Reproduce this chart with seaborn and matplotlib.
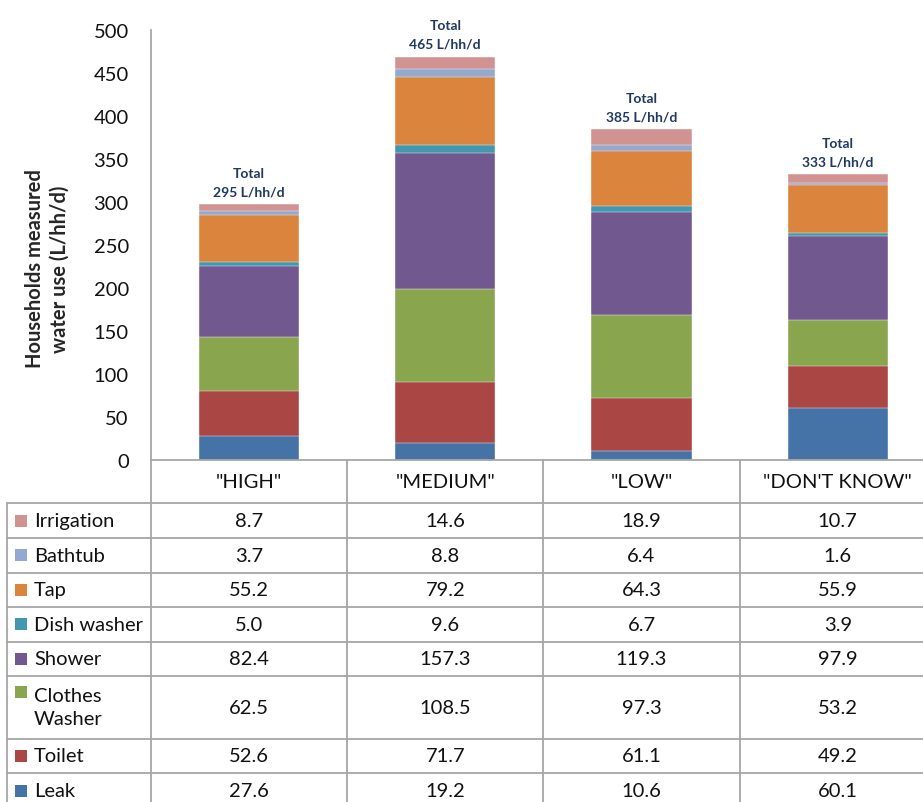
import numpy as np
import pandas as pd
import matplotlib.pyplot as plt
import seaborn as sns
from matplotlib.patches import Rectangle

levels = ['"HIGH"', '"MEDIUM"', '"LOW"', '"DON\'T KNOW"']
uses = ["Leak", "Toilet", "Clothes\nWasher", "Shower", "Dish washer", "Tap", "Bathtub", "Irrigation"]
leak = [27.6, 19.2, 10.6, 60.1]
toilet = [52.6, 71.7, 61.1, 49.2]
clothes = [62.5, 108.5, 97.3, 53.2]
shower = [82.4, 157.3, 119.3, 97.9]
dish = [5.0, 9.6, 6.7, 3.9]
tap = [55.2, 79.2, 64.3, 55.9]
bathtub = [3.7, 8.8, 6.4, 1.6]
irrigation = [8.7, 14.6, 18.9, 10.7]
totals = [295, 465, 385, 333]
colors = ["#4572A7", "#AA4643", "#89A54E", "#71588F", "#4198AF", "#DB843D", "#93A9CF", "#D19392"]

df = pd.DataFrame(dict(zip(uses, [leak, toilet, clothes, shower, dish, tap, bathtub, irrigation])))
df.insert(0, "level", levels)
cum = df[uses].cumsum(axis=1)
cum.insert(0, "level", levels)

sns.set_style("white")
plt.rcParams["font.family"] = ["Lato", "DejaVu Sans"]
grey = "#A6A6A6"

W, H = 923, 803
fig = plt.figure(figsize=(W / 100, H / 100), dpi=100)

# table grid geometry (pixels)
x_left, x0, cw = 7, 151, 196.2
y_axis_bottom, y_axis_top = 461, 31
row_bounds = [504, 539, 573.5, 608, 642.5, 677, 739.5, 774, 809]

ax = fig.add_axes([x0 / W, 1 - y_axis_bottom / H, 4 * cw / W, (y_axis_bottom - y_axis_top) / H])

# stacked bars: draw cumulative heights from the top segment down
for use, col in reversed(list(zip(uses, colors))):
    sns.barplot(data=cum, x="level", y=use, color=col, saturation=1, width=0.51,
                edgecolor="white", linewidth=0.3, ax=ax)

for i, (lvl, tot) in enumerate(zip(levels, totals)):
    ax.annotate(f"Total\n{tot} L/hh/d", xy=(i, cum[uses[-1]][i]), xytext=(0, 5),
                textcoords="offset points", ha="center", va="bottom",
                fontsize=10, fontweight="bold", color="#1F3864", linespacing=1.65)

ax.set_xlim(-0.5, 3.5)
ax.set_ylim(0, 500)
ax.set_yticks(range(0, 501, 50))
ax.set_xticks([])
ax.set_xlabel("")
ax.set_ylabel("")
ax.tick_params(axis="y", length=0, pad=16, labelsize=14.5, labelcolor="#111111")
for s in ["top", "right"]:
    ax.spines[s].set_visible(False)
for s in ["left", "bottom"]:
    ax.spines[s].set_color(grey)
    ax.spines[s].set_linewidth(1.3)

fig.text(47 / W, 1 - 269 / H, "Households measured\nwater use (L/hh/d)", rotation=90,
         ha="center", va="center", fontsize=14.5, fontweight="bold", linespacing=1.3)

# data table below the chart, drawn in pixel coordinates
tab = fig.add_axes([0, 0, 1, 1], zorder=3)
tab.set_xlim(0, W)
tab.set_ylim(H, 0)
tab.axis("off")
tab.patch.set_alpha(0)

col_edges = [x0 + k * cw for k in range(5)]
for y in row_bounds[:-1]:
    tab.plot([x_left, W], [y, y], color=grey, lw=1.3, clip_on=False)
tab.plot([x_left, x_left], [row_bounds[0], H], color=grey, lw=1.3)
for xe in col_edges[:-1]:
    tab.plot([xe, xe], [y_axis_bottom, H], color=grey, lw=1.3)

for i, lvl in enumerate(levels):
    tab.text(x0 + (i + 0.5) * cw, (y_axis_bottom + row_bounds[0]) / 2, lvl,
             ha="center", va="center", fontsize=14.5, color="#111111")

rows = list(zip(uses, colors, [leak, toilet, clothes, shower, dish, tap, bathtub, irrigation]))[::-1]
for r, (use, col, vals) in enumerate(rows):
    top, bot = row_bounds[r], row_bounds[r + 1]
    mid = (top + bot) / 2
    first = top + 16 if "\n" in use else mid
    tab.add_patch(Rectangle((15, first - 6), 12, 12, color=col, lw=0))
    tab.text(34, first if "\n" not in use else mid, use, ha="left", va="center",
             fontsize=14.5, linespacing=1.45, color="#111111")
    for i, v in enumerate(vals):
        tab.text(x0 + (i + 0.5) * cw, mid, f"{v:.1f}", ha="center", va="center",
                 fontsize=14.5, color="#111111")

fig.savefig("out.png", dpi=100)
